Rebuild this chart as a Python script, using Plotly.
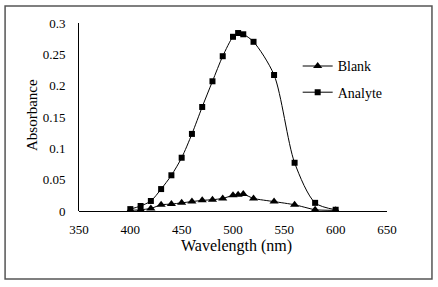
import plotly.graph_objects as go

wavelength = [400, 410, 420, 430, 440, 450, 460, 470, 480, 490, 500, 505, 510, 520, 540, 560, 580, 600]
blank = [0.001, 0.002, 0.004, 0.010, 0.011, 0.013, 0.015, 0.017, 0.018, 0.020, 0.025, 0.026, 0.027, 0.020, 0.015, 0.010, 0.002, 0.001]
analyte = [0.003, 0.008, 0.016, 0.035, 0.057, 0.085, 0.123, 0.166, 0.207, 0.247, 0.278, 0.284, 0.282, 0.270, 0.217, 0.077, 0.013, 0.002]

x_ticks = [350, 400, 450, 500, 550, 600, 650]
y_ticks = [0, 0.05, 0.1, 0.15, 0.2, 0.25, 0.3]
y_tick_text = ["0", "0.05", "0.1", "0.15", "0.2", "0.25", "0.3"]

FONT = "Liberation Serif, Times New Roman, serif"

fig = go.Figure()
fig.add_trace(go.Scatter(
    x=wavelength, y=blank, name="Blank", mode="lines+markers",
    line=dict(color="black", width=1, shape="spline", smoothing=0.5),
    marker=dict(symbol="triangle-up", size=8, color="black"),
    legendgroup="b",
))
fig.add_trace(go.Scatter(
    x=wavelength, y=analyte, name="Analyte", mode="lines+markers",
    line=dict(color="black", width=1, shape="spline", smoothing=0.8),
    marker=dict(symbol="square", size=6, color="black"),
    legendgroup="a",
))

fig.add_shape(type="rect", xref="paper", yref="paper",
              x0=-0.240, x1=1.146, y0=-0.362, y1=1.090,
              line=dict(color="#555555", width=1.5), fillcolor="rgba(0,0,0,0)")

fig.add_annotation(text="Absorbance", xref="paper", yref="paper",
                   x=-0.153, y=0.51, xanchor="center", yanchor="middle",
                   textangle=-90, showarrow=False,
                   font=dict(family=FONT, size=15, color="black"))
fig.add_annotation(text="Wavelength (nm)", xref="paper", yref="paper",
                   x=0.51, y=-0.187, xanchor="center", yanchor="middle",
                   showarrow=False,
                   font=dict(family=FONT, size=16, color="black"))

fig.update_layout(
    width=438, height=287,
    margin=dict(l=79, r=51, t=23, b=76),
    paper_bgcolor="white", plot_bgcolor="white",
    font=dict(family=FONT, size=14, color="black"),
    showlegend=True,
    legend=dict(x=0.71, y=0.70, xanchor="left", yanchor="middle",
                font=dict(family=FONT, size=14), itemwidth=30,
                traceorder="grouped", tracegroupgap=5,
                bgcolor="rgba(0,0,0,0)"),
    xaxis=dict(range=[350, 650], tickvals=x_ticks, showgrid=False, zeroline=False,
               showline=False, ticks="", ticklabelstandoff=9,
               tickfont=dict(family=FONT, size=13)),
    yaxis=dict(range=[0, 0.3], tickvals=y_ticks, ticktext=y_tick_text, showgrid=False,
               zeroline=True, zerolinecolor="black", zerolinewidth=1,
               showline=True, linecolor="black", linewidth=1, ticks="",
               ticklabelstandoff=10,
               tickfont=dict(family=FONT, size=13)),
)

fig.write_html("out.html", config={"displayModeBar": False},
               post_script="document.body.style.margin='0';")
